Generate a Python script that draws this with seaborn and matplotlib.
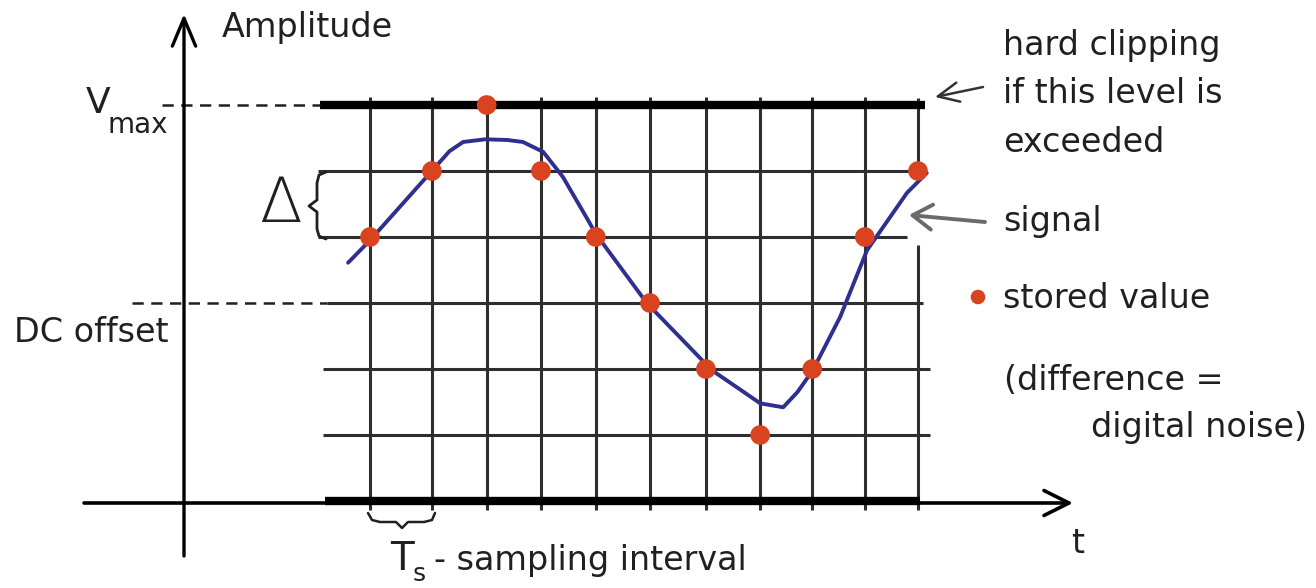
import numpy as np
import pandas as pd
import matplotlib
matplotlib.use("Agg")
import matplotlib.pyplot as plt
import seaborn as sns

# ---------------- data ----------------
sample_times = [0.0, 1.13, 2.13, 3.12, 4.12, 5.11, 6.13, 7.12, 8.07, 9.03, 10.0]
stored_levels = [4, 5, 6, 5, 4, 3, 2, 1, 2, 4, 5]
signal_t = [-0.40, 0.0, 1.15, 1.45, 1.70, 2.10, 2.50, 2.79, 3.16, 3.52, 4.01, 4.11,
            5.05, 6.24, 6.70, 7.12, 7.54, 7.80, 8.08, 8.58, 9.07, 9.80, 10.16]
signal_amp = [3.61, 3.95, 5.02, 5.30, 5.44, 5.48, 5.47, 5.44, 5.29, 4.91, 4.21, 4.06,
              3.00, 1.98, 1.72, 1.48, 1.42, 1.65, 1.98, 2.79, 3.80, 4.67, 4.97]
quant_levels = [0, 1, 2, 3, 4, 5, 6]
vmax_level = 6
dc_offset_level = 3

# ---------------- layout helpers (pixel -> data) ----------------
X0, DXp, Y0, DYp = 370.0, 54.8, 501.0, 66.0
def px(x):
    return (x - X0) / DXp
def py(y):
    return (Y0 - y) / DYp

sns.set_style("white")
plt.rcParams['font.family'] = ['DejaVu Sans']

fig = plt.figure(figsize=(13.16, 5.88), dpi=100)
ax = fig.add_axes([0, 0, 1, 1])
ax.set_xlim(px(0), px(1316))
ax.set_ylim(py(588), py(0))
ax.axis('off')

TXT = '#202020'
GRID = '#2e2e2e'

# horizontal quantisation levels (x-extent in pixels for each level)
h_extent = {6: (320, 925), 5: (318, 925), 4: (318, 907), 3: (327, 923),
            2: (323, 930), 1: (323, 930), 0: (325, 920)}
for lev in quant_levels:
    a, b = h_extent[lev]
    thick = lev in (0, vmax_level)
    ax.hlines(lev, px(a), px(b), color='black' if thick else GRID,
              lw=6.0 if thick else 2.2, zorder=2 if thick else 1)

# vertical sampling lines
for i, t in enumerate(sample_times):
    if i == len(sample_times) - 1:
        ax.vlines(t, py(510), py(245), color=GRID, lw=2.2, zorder=1)
        ax.vlines(t, py(163), py(98), color=GRID, lw=2.2, zorder=1)
    else:
        ax.vlines(t, py(510), py(97), color=GRID, lw=2.2, zorder=1)

# dashed guide lines for Vmax and DC offset
ax.hlines(vmax_level, px(162), px(320), color=TXT, lw=1.8,
          linestyles=(0, (4.5, 3)))
ax.hlines(dc_offset_level, px(132), px(327), color=TXT, lw=1.8,
          linestyles=(0, (4.5, 3)))

# axes arrows
ax.annotate('', xy=(px(184), py(14)), xytext=(px(184), py(556)),
            arrowprops=dict(arrowstyle='->,head_length=1.0,head_width=0.42',
                            mutation_scale=20, lw=2.4, color='black',
                            shrinkA=0, shrinkB=0))
ax.annotate('', xy=(px(1073), py(503)), xytext=(px(84), py(503)),
            arrowprops=dict(arrowstyle='->,head_length=0.9,head_width=0.45',
                            mutation_scale=20, lw=2.6, color='black',
                            shrinkA=0, shrinkB=0))

# signal and stored values
sig_df = pd.DataFrame({'t': signal_t, 'amp': signal_amp})
sns.lineplot(data=sig_df, x='t', y='amp', sort=False, estimator=None,
             color='#2f2f8f', lw=2.8, ax=ax, zorder=4)
st_df = pd.DataFrame({'t': sample_times, 'level': stored_levels})
sns.scatterplot(data=st_df, x='t', y='level', color='#d9431f', s=200,
                edgecolor='none', ax=ax, zorder=5)

# braces
bx = [326, 319, 317, 317, 309, 317, 317, 319, 326]
by = [172, 175, 183, 200, 206, 212, 229, 236, 239]
ax.plot([px(v) for v in bx], [py(v) for v in by], color=TXT, lw=2.0)
tx = [368, 372, 380, 396, 402, 408, 424, 432, 435]
ty = [513, 520, 522, 522, 528, 522, 522, 520, 513]
ax.plot([px(v) for v in tx], [py(v) for v in ty], color=TXT, lw=1.8)

# annotation arrows
ax.annotate('', xy=(px(935), py(97)), xytext=(px(983), py(87)),
            arrowprops=dict(arrowstyle='->,head_length=0.75,head_width=0.35',
                            mutation_scale=20, lw=1.8, color='#333333',
                            shrinkA=0, shrinkB=0))
ax.annotate('', xy=(px(909), py(215)), xytext=(px(985), py(222)),
            arrowprops=dict(arrowstyle='->,head_length=0.7,head_width=0.45',
                            mutation_scale=20, lw=2.8, color='#6a6a6a',
                            shrinkA=0, shrinkB=0))
ax.scatter([px(978)], [py(297)], s=110, color='#d9431f', edgecolor='none')

# texts
FS = 24
def T(x, y, s, fs=FS, **kw):
    ax.text(px(x), py(y), s, fontsize=fs, color=TXT, ha='left',
            va='baseline', **kw)

T(222, 37, 'Amplitude')
T(86, 113, 'V', fs=26)
T(107, 133, 'max', fs=20)
ax.text(px(280), py(205), '\u0394', fontsize=45, color=TXT, ha='center',
        va='center', fontweight='light')
T(14, 342, 'DC offset')
T(1003, 55, 'hard clipping')
T(1003, 103, 'if this level is')
T(1003, 152, 'exceeded')
T(1003, 231, 'signal')
T(1003, 308, 'stored value')
T(1004, 390, '(difference =')
T(1091, 437, 'digital noise)')
T(1071, 553, 't')
T(390, 570, 'T', fs=28)
T(413, 581, 's', fs=18)
T(434, 570, '- sampling interval')

fig.savefig('out.png', dpi=100, facecolor='white')
